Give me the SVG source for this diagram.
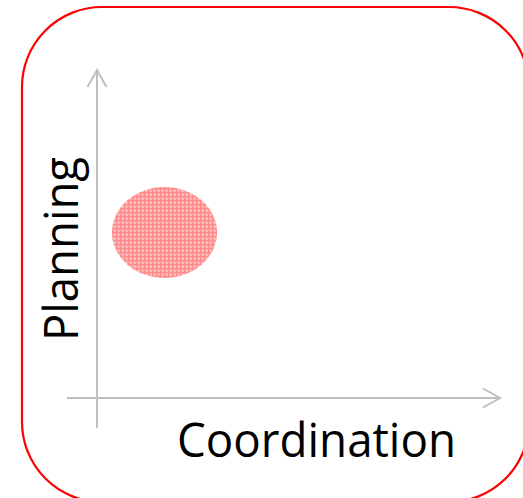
<svg xmlns="http://www.w3.org/2000/svg" width="523" height="498" viewBox="0 0 523 498">
  <style>
    .frame { fill: #ffffff; stroke: #ff0000; stroke-width: 2.2; }
    .axis { fill: none; stroke: #bfbfbf; stroke-width: 2; }
    .label { font-family: "Open Sans", "Liberation Sans", sans-serif; font-size: 47px; fill: #000000; }
  </style>
  <defs>
    <!-- fine pink grid used for the blob -->
    <pattern id="grid" width="4" height="4" patternUnits="userSpaceOnUse">
      <rect width="4" height="4" fill="#ffb0b0"/>
      <rect width="4" height="1.3" fill="#ff8c8c"/>
      <rect width="1.3" height="4" fill="#ff8c8c"/>
      <rect x="2" y="2" width="1" height="1" fill="#ffd6d6"/>
    </pattern>
    <filter id="soft" x="-5%" y="-5%" width="110%" height="110%">
      <feGaussianBlur stdDeviation="0.6"/>
    </filter>
  </defs>

  <g id="frame">
    <rect class="frame" x="22" y="7" width="507" height="495" rx="80" ry="80"/>
  </g>

  <g id="axes">
    <line class="axis" x1="97" y1="428" x2="97" y2="70"/>
    <polyline class="axis" points="87.5,87 97,70 106.5,87"/>
    <line class="axis" x1="67" y1="398" x2="500" y2="398"/>
    <polyline class="axis" points="483,388.5 500,398 483,407.5"/>
  </g>

  <g id="blob">
    <ellipse cx="164.5" cy="232.5" rx="52.5" ry="45.5" fill="url(#grid)" filter="url(#soft)"/>
  </g>

  <g id="labels">
    <text class="label" x="177" y="457" textLength="279" lengthAdjust="spacingAndGlyphs">Coordination</text>
    <text class="label" transform="translate(78,341) rotate(-90)" x="0" y="0" textLength="184" lengthAdjust="spacingAndGlyphs">Planning</text>
  </g>
</svg>
